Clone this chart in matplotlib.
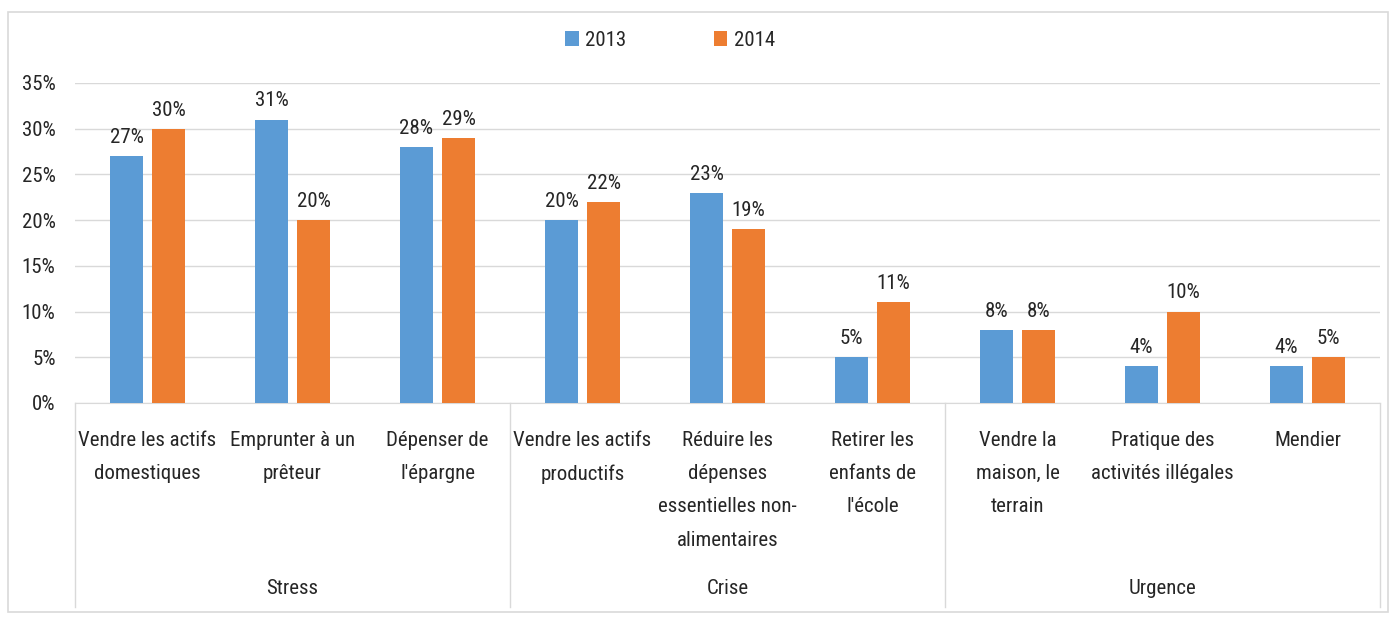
import matplotlib
matplotlib.use('Agg')
import matplotlib.pyplot as plt
import matplotlib.transforms as mtransforms
from matplotlib.patches import Rectangle
import numpy as np

plt.rcParams['font.family'] = ['Roboto Condensed', 'DejaVu Sans']

# Coping strategies grouped by severity
groups = ['Stress', 'Crise', 'Urgence']
categories = [
    'Vendre les actifs\ndomestiques', 'Emprunter à un\nprêteur', 'Dépenser de\nl\'épargne',
    'Vendre les actifs\nproductifs', 'Réduire les\ndépenses\nessentielles non-\nalimentaires',
    'Retirer les\nenfants de\nl\'école',
    'Vendre la\nmaison, le\nterrain', 'Pratique des\nactivités illégales', 'Mendier',
]
group_sizes = [3, 3, 3]
vals_2013 = [27, 31, 28, 20, 23, 5, 8, 4, 4]
vals_2014 = [30, 20, 29, 22, 19, 11, 8, 10, 5]
series_names = ['2013', '2014']

colors = {'2013': '#5B9BD5', '2014': '#ED7D31'}
grid_color = '#D9D9D9'
text_color = '#262626'
fs = 15

W, H = 1397, 617
fig = plt.figure(figsize=(W / 100, H / 100), dpi=100)

# outer chart frame
fig.patches.append(Rectangle((8 / W, 1 - 612 / H), 1380 / W, 600 / H,
                             transform=fig.transFigure, fill=False,
                             edgecolor=grid_color, linewidth=1.2))

left, right = 75, 1380
y0, y35 = 403, 83
ax = fig.add_axes([left / W, 1 - y0 / H, (right - left) / W, (y0 - y35) / H])

x = np.arange(len(categories))
bw = 0.23
off = 0.145
b1 = ax.bar(x - off, vals_2013, bw, color=colors['2013'], label=series_names[0], zorder=3)
b2 = ax.bar(x + off, vals_2014, bw, color=colors['2014'], label=series_names[1], zorder=3)

for bars, vals in ((b1, vals_2013), (b2, vals_2014)):
    for bar, v in zip(bars, vals):
        ax.text(bar.get_x() + bar.get_width() / 2, v + 1.0, f'{v}%',
                ha='center', va='bottom', fontsize=fs, color=text_color)

ax.set_xlim(-0.5, len(categories) - 0.5)
ax.set_ylim(0, 35)
ax.set_yticks(np.arange(0, 36, 5))
ax.set_yticklabels([f'{t}%' for t in range(0, 36, 5)], fontsize=fs, color=text_color)
ax.tick_params(axis='y', length=0, pad=14)
ax.grid(True, axis='y', color=grid_color, linewidth=1, zorder=0)
for s in ['top', 'right', 'left']:
    ax.spines[s].set_visible(False)
ax.spines['bottom'].set_color(grid_color)

ax.set_xticks(x)
ax.set_xticklabels(categories, fontsize=fs, color=text_color, linespacing=1.95, va='top')
ax.tick_params(axis='x', length=0, pad=20)

# group separators and labels below the category labels
trans = mtransforms.blended_transform_factory(ax.transData, ax.transAxes)
sep_bottom = -(607 - y0) / (y0 - y35)
edges = np.concatenate([[0], np.cumsum(group_sizes)]) - 0.5
for e in edges:
    ax.plot([e, e], [0, sep_bottom], color=grid_color, linewidth=1,
            transform=trans, clip_on=False)
for g, a, b in zip(groups, edges[:-1], edges[1:]):
    ax.text((a + b) / 2, -(588 - y0) / (y0 - y35), g, transform=trans,
            ha='center', va='center', fontsize=fs, color=text_color)

fig.legend(handles=[b1, b2], labels=series_names, loc='center',
           bbox_to_anchor=(670 / W, 1 - 40 / H), ncol=2, frameon=False,
           fontsize=fs, handlelength=0.65, handleheight=0.7, handletextpad=0.3,
           columnspacing=4.2, labelcolor=text_color)

fig.savefig('out.png', dpi=100)
